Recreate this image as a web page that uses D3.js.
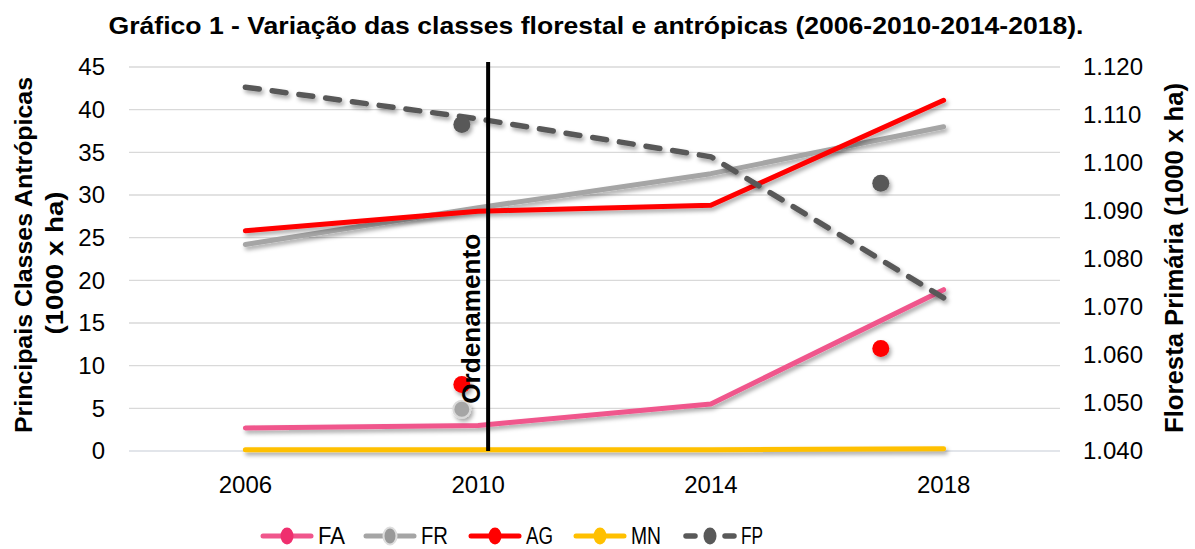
<!DOCTYPE html>
<html>
<head>
<meta charset="utf-8">
<script src="https://cdn.jsdelivr.net/npm/d3@7"></script>
<style>
  body { margin: 0; background: #fff; }
  svg { font-family: "Liberation Sans", Arial, sans-serif; }
</style>
</head>
<body>
<div id="chart"></div>
<script>
const width = 1195;
const height = 549;

// dados
const anos = ["2006", "2010", "2014", "2018"];
const FA = [2.7, 3.0, 5.5, 18.9];
const FR = [24.2, 28.5, 32.5, 38.0];
const AG = [25.8, 28.1, 28.8, 41.1];
const MN = [0.15, 0.15, 0.15, 0.25];
const FP = [1.1158, 1.1092, 1.1013, 1.0719];

// marcadores soltos (posição em índice de categoria, valor)
const soltosEsq = [
  { pos: 0.93, v: 7.8, cor: "#ff0000", tipo: "AG" },
  { pos: 0.93, v: 4.9, cor: "#a5a5a5", tipo: "FR" },
  { pos: 2.73, v: 12.0, cor: "#ff0000", tipo: "AG" }
];
const soltosDir = [
  { pos: 0.93, v: 1.108 },
  { pos: 2.73, v: 1.0958 }
];

const ticksEsq = [0, 5, 10, 15, 20, 25, 30, 35, 40, 45];
const ticksDir = [1.040, 1.050, 1.060, 1.070, 1.080, 1.090, 1.100, 1.110, 1.120];

const margin = { top: 67, right: 135, bottom: 98, left: 129 };
const iw = width - margin.left - margin.right;
const ih = height - margin.top - margin.bottom;

const svg = d3.select("#chart").append("svg")
  .attr("width", width)
  .attr("height", height);

// sombra
const defs = svg.append("defs");
const f = defs.append("filter").attr("id", "sombra")
  .attr("filterUnits", "userSpaceOnUse")
  .attr("x", -200).attr("y", -200).attr("width", 1600).attr("height", 1000);
f.append("feDropShadow").attr("dx", 2).attr("dy", 3).attr("stdDeviation", 2)
  .attr("flood-color", "#000").attr("flood-opacity", 0.35);

const g = svg.append("g").attr("transform", `translate(${margin.left},${margin.top})`);

const x = d3.scaleBand().domain(anos).range([0, iw]);
const xi = d3.scaleLinear().domain([0, 1]).range([x.bandwidth() / 2, x.bandwidth() * 1.5]);
const yE = d3.scaleLinear().domain([0, 45]).range([ih, 0]);
const yD = d3.scaleLinear().domain([1.040, 1.120]).range([ih, 0]);

// grade
g.append("g").selectAll("line").data(ticksEsq).enter().append("line")
  .attr("x1", 0).attr("x2", iw)
  .attr("y1", d => yE(d)).attr("y2", d => yE(d))
  .attr("stroke", d => d === 0 ? "#d9dde3" : "#d9d9d9")
  .attr("stroke-width", 1.3);

// eixos
const axE = g.append("g").call(d3.axisLeft(yE).tickValues(ticksEsq).tickSize(0).tickPadding(24));
const axD = g.append("g").attr("transform", `translate(${iw},0)`)
  .call(d3.axisRight(yD).tickValues(ticksDir).tickSize(0).tickPadding(23).tickFormat(d3.format(".3f")));
const axX = g.append("g").attr("transform", `translate(0,${ih})`)
  .call(d3.axisBottom(x).tickSize(0).tickPadding(25));
[axE, axD, axX].forEach(a => {
  a.select(".domain").remove();
  a.attr("font-size", 24).attr("font-family", "Liberation Sans, Arial, sans-serif");
  a.selectAll("text").attr("fill", "#000");
});

// linhas
const linha = (y) => d3.line().x((d, i) => xi(i)).y(d => y(d));
const series = [
  { dados: MN, cor: "#ffc000", y: yE },
  { dados: FA, cor: "#f0568c", y: yE },
  { dados: FR, cor: "#a5a5a5", y: yE },
  { dados: AG, cor: "#ff0000", y: yE }
];
series.forEach(s => {
  g.append("path").datum(s.dados)
    .attr("fill", "none")
    .attr("stroke", s.cor)
    .attr("stroke-width", 5)
    .attr("stroke-linecap", "round")
    .attr("stroke-linejoin", "round")
    .attr("filter", "url(#sombra)")
    .attr("d", linha(s.y));
});
g.append("path").datum(FP)
  .attr("fill", "none")
  .attr("stroke", "#595959")
  .attr("stroke-width", 5.5)
  .attr("stroke-dasharray", "14,13")
  .attr("stroke-linecap", "round")
  .attr("filter", "url(#sombra)")
  .attr("d", linha(yD));

// marcadores soltos
g.append("g").selectAll("circle").data(soltosEsq).enter().append("circle")
  .attr("cx", d => xi(d.pos)).attr("cy", d => yE(d.v))
  .attr("r", 8.5)
  .attr("fill", d => d.cor)
  .attr("stroke", d => d.tipo === "FR" ? "#d9d9d9" : "none")
  .attr("stroke-width", 2)
  .attr("filter", "url(#sombra)");
g.append("g").selectAll("circle").data(soltosDir).enter().append("circle")
  .attr("cx", d => xi(d.pos)).attr("cy", d => yD(d.v))
  .attr("r", 8.5)
  .attr("fill", "#595959")
  .attr("filter", "url(#sombra)");

// linha de ordenamento
const xOrd = xi(1) + 10;
g.append("line")
  .attr("x1", xOrd).attr("x2", xOrd)
  .attr("y1", -5).attr("y2", ih)
  .attr("stroke", "#000").attr("stroke-width", 4);
g.append("text")
  .attr("transform", `translate(${xOrd - 8},${yE(15.5)}) rotate(-90)`)
  .attr("text-anchor", "middle")
  .attr("font-size", 25).attr("font-weight", "bold")
  .attr("textLength", 170).attr("lengthAdjust", "spacingAndGlyphs")
  .text("Ordenamento");

// titulo
svg.append("text")
  .attr("x", 596).attr("y", 34)
  .attr("text-anchor", "middle")
  .attr("font-size", 24).attr("font-weight", "bold")
  .attr("textLength", 975).attr("lengthAdjust", "spacingAndGlyphs")
  .text("Gráfico 1 - Variação das classes florestal e antrópicas (2006-2010-2014-2018).");

// titulos dos eixos
const yMeio = margin.top + ih / 2;
svg.append("text")
  .attr("transform", `translate(32,${yMeio - 4}) rotate(-90)`)
  .attr("text-anchor", "middle")
  .attr("font-size", 24).attr("font-weight", "bold")
  .attr("textLength", 356).attr("lengthAdjust", "spacingAndGlyphs")
  .text("Principais Classes Antrópicas");
svg.append("text")
  .attr("transform", `translate(63,${yMeio + 4}) rotate(-90)`)
  .attr("text-anchor", "middle")
  .attr("font-size", 24).attr("font-weight", "bold")
  .attr("textLength", 143).attr("lengthAdjust", "spacingAndGlyphs")
  .text("(1000 x ha)");
svg.append("text")
  .attr("transform", `translate(1183,${yMeio - 1}) rotate(-90)`)
  .attr("text-anchor", "middle")
  .attr("font-size", 25).attr("font-weight", "bold")
  .attr("textLength", 350).attr("lengthAdjust", "spacingAndGlyphs")
  .text("Floresta Primária (1000 x ha)");

// legenda
const legenda = [
  { nome: "FA", cor: "#f0568c", marc: "#ef2f6e", x: 260, tl: 27 },
  { nome: "FR", cor: "#a5a5a5", marc: "#999", x: 363, tl: 27 },
  { nome: "AG", cor: "#ff0000", marc: "#ff0000", x: 468, tl: 27 },
  { nome: "MN", cor: "#ffc000", marc: "#ffc000", x: 573, tl: 30 },
  { nome: "FP", cor: "#595959", marc: "#595959", x: 683, tl: 22, tracejado: true }
];
const lg = svg.append("g").attr("transform", "translate(0,536)");
legenda.forEach(d => {
  const it = lg.append("g").attr("transform", `translate(${d.x},0)`);
  if (d.tracejado) {
    it.append("line").attr("x1", 3).attr("x2", 12).attr("stroke", d.cor)
      .attr("stroke-width", 5.5).attr("stroke-linecap", "round");
    it.append("line").attr("x1", 42).attr("x2", 51).attr("stroke", d.cor)
      .attr("stroke-width", 5.5).attr("stroke-linecap", "round");
  } else {
    it.append("line").attr("x1", 3).attr("x2", 51).attr("stroke", d.cor)
      .attr("stroke-width", 5).attr("stroke-linecap", "round");
  }
  it.append("ellipse").attr("cx", 27).attr("cy", 0).attr("rx", 6.5).attr("ry", 8.5)
    .attr("fill", d.marc)
    .attr("stroke", d.nome === "FR" ? "#ddd" : "none").attr("stroke-width", 2);
  it.append("text").attr("x", 58).attr("y", 8)
    .attr("font-size", 23)
    .attr("textLength", d.tl).attr("lengthAdjust", "spacingAndGlyphs")
    .text(d.nome);
});
</script>
</body>
</html>
